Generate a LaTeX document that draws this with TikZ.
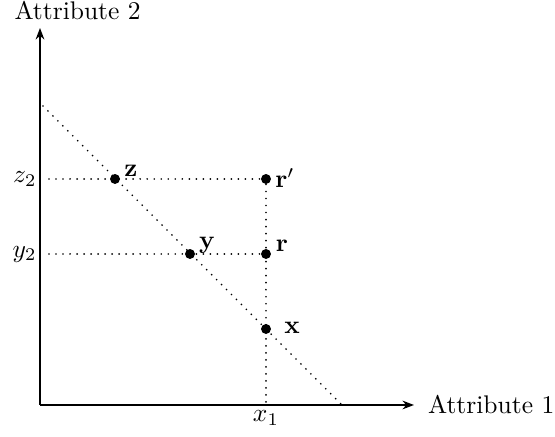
\documentclass[tikz,border=0pt]{standalone}
\usetikzlibrary{arrows.meta}
\begin{document}
\begin{tikzpicture}[x=0.392pt,y=-0.392pt,
  pt/.style={circle,fill=black,inner sep=0pt,minimum size=3.9pt},
  axis/.style={line width=0.7pt,-{Stealth[length=4.5pt,width=3.4pt]}},
  guide/.style={line width=0.75pt,line cap=round,dash pattern=on 0pt off 2.75pt}]
\useasboundingbox (0,0) rectangle (555,437);
\coordinate (o) at (40,405);
\coordinate (ytop) at (40,28);
\coordinate (xend) at (414,405);
\draw[axis] (o) -- (ytop);
\draw[axis] (o) -- (xend);
\node[anchor=base west,inner sep=0pt] (a2) at (14,20) {Attribute 2};
\node[anchor=west] (a1) at (xend) [xshift=2pt] {Attribute 1};
\node[pt] (z) at (115,179) {};
\node[pt] (rp) at (266,179) {};
\node[pt] (y) at (190,254) {};
\node[pt] (r) at (266,254) {};
\node[pt] (x) at (266,329) {};
\coordinate (d1) at (43,106);
\coordinate (d2) at (342,405);
\coordinate (hz) at (49,179);
\coordinate (hy) at (49,254);
\coordinate (vx) at (266,405);
\draw[guide] (d1) -- (d2);
\draw[guide] (hz) -- (rp);
\draw[guide] (hy) -- (r);
\draw[guide] (rp) -- (vx);
\node[anchor=east,inner sep=0pt] (lz2) at (37,179) {$z_2$};
\node[anchor=east,inner sep=0pt] (ly2) at (37,254) {$y_2$};
\node[anchor=north,inner sep=2pt] (lx1) at (vx) {$x_1$};
\node (lz) at (131,171) {$\mathbf{z}$};
\node (lrp) at (285,178) {$\mathbf{r}'$};
\node (ly) at (207,245) {$\mathbf{y}$};
\node (lr) at (282,246) {$\mathbf{r}$};
\node (lx) at (292,328) {$\mathbf{x}$};
\end{tikzpicture}
\end{document}
